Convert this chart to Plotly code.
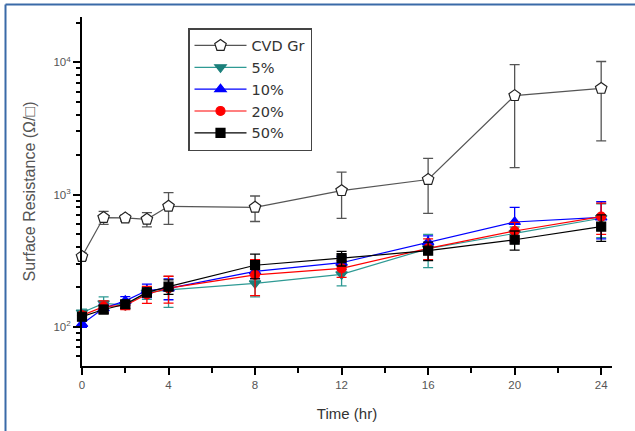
import plotly.graph_objects as go

time_cvd = [0, 1, 2, 3, 4, 8, 12, 16, 20, 24]
cvd = [340, 670, 665, 650, 815, 800, 1070, 1300, 5600, 6350]
cvd_err = [20, 75, 35, 80, 220, 175, 410, 580, 4000, 3800]

time = [0, 1, 2, 3, 4, 8, 12, 16, 20, 24]
p5 = [128, 150, 146, 181, 190, 213, 249, 390, 508, 662]
p5_err = [8, 18, 10, 20, 50, 45, 45, 110, 60, 190]
p10 = [105, 138, 157, 188, 195, 262, 305, 437, 620, 672]
p10_err = [6, 10, 12, 22, 35, 30, 35, 50, 180, 210]
p20 = [122, 142, 145, 176, 196, 247, 276, 392, 530, 680]
p20_err = [7, 15, 10, 26, 45, 75, 40, 70, 85, 180]
p50 = [119, 135, 148, 182, 201, 292, 330, 376, 455, 572]
p50_err = [6, 10, 10, 14, 25, 62, 42, 60, 75, 130]

fig = go.Figure()

def add(x, y, e, name, color, lcolor, symbol, size, fill):
    fig.add_trace(go.Scatter(
        x=x, y=y, name=name, mode="lines+markers",
        line=dict(color=lcolor, width=1.2),
        marker=dict(symbol=symbol, size=size, color=fill,
                    line=dict(color=color, width=1.2)),
        error_y=dict(type="data", array=e, visible=True, color=lcolor,
                     thickness=1.3, width=5),
        cliponaxis=False,
    ))

add(time_cvd, cvd, cvd_err, "CVD Gr", "#222222", "#555555", "pentagon", 12, "white")
add(time, p5, p5_err, "5%", "#1a7f7a", "#2e9a94", "triangle-down", 10, "#1a7f7a")
add(time, p10, p10_err, "10%", "#0000ff", "#0000ff", "triangle-up", 10, "#0000ff")
add(time, p20, p20_err, "20%", "#ff0000", "#ff0000", "circle", 9, "#ff0000")
add(time, p50, p50_err, "50%", "#000000", "#000000", "square", 9, "#000000")

L, R, T, B = 82, 23, 17, 65
W, H = 635, 431
pw = W - L - R
ph = H - T - B

def px(x):
    return (x - L) / pw

def py(y):
    return (H - B - y) / ph

minor_vals = []
for dec in [10, 100, 1000, 10000]:
    for m in range(2, 10):
        v = dec * m
        if 50 <= v <= 22000:
            minor_vals.append(v)

fig.update_layout(
    width=W, height=H,
    margin=dict(l=L, r=R, t=T, b=B, autoexpand=False),
    paper_bgcolor="white", plot_bgcolor="white",
    font=dict(family="Liberation Sans, Arial, sans-serif", color="#333333"),
    showlegend=True,
    legend=dict(x=px(188), y=py(28), xanchor="left", yanchor="top",
                bgcolor="white", bordercolor="#444444", borderwidth=1.5,
                font=dict(size=14.5, color="#333333",
                          family="DejaVu Sans, Verdana, sans-serif"),
                tracegroupgap=0, itemwidth=52),
    xaxis=dict(range=[0, 24.5], showgrid=False, zeroline=False, automargin=False,
               showline=True, linecolor="black", linewidth=2,
               ticks="outside", ticklen=7, tickwidth=2, tickcolor="black",
               tickvals=[0, 4, 8, 12, 16, 20, 24],
               tickfont=dict(size=11.5, color="#555555"),
               minor=dict(tickvals=[2, 6, 10, 14, 18, 22], ticks="outside",
                          ticklen=5, tickwidth=2, tickcolor="black"),
               title=dict(text="Time (hr)", font=dict(size=15, color="#333333"),
                          standoff=19)),
    yaxis=dict(type="log", range=[1.703, 4.343], showgrid=False, zeroline=False,
               automargin=False,
               showline=True, linecolor="black", linewidth=2,
               ticks="outside", ticklen=7, tickwidth=2, tickcolor="black",
               tickvals=[100, 1000, 10000],
               ticktext=["10<sup>2</sup>", "10<sup>3</sup>", "10<sup>4</sup>"],
               tickfont=dict(size=11.5, color="#555555"),
               minor=dict(tickvals=minor_vals, ticks="outside",
                          ticklen=4, tickwidth=1.5, tickcolor="black"),
               title=dict(text="Surface Resistance (Ω/□)",
                          font=dict(size=16, color="#555555"), standoff=14)),
    shapes=[
        dict(type="line", xref="paper", yref="paper",
             x0=px(5.5), y0=py(4.5), x1=px(640), y1=py(4.5),
             line=dict(color="#3a6aa8", width=2)),
        dict(type="line", xref="paper", yref="paper",
             x0=px(5.5), y0=py(4.5), x1=px(5.5), y1=py(440),
             line=dict(color="#3a6aa8", width=2)),
    ],
)

fig.write_html("out.html", config={"displayModeBar": False},
               post_script="document.body.style.margin='0';document.body.style.overflow='hidden';")
